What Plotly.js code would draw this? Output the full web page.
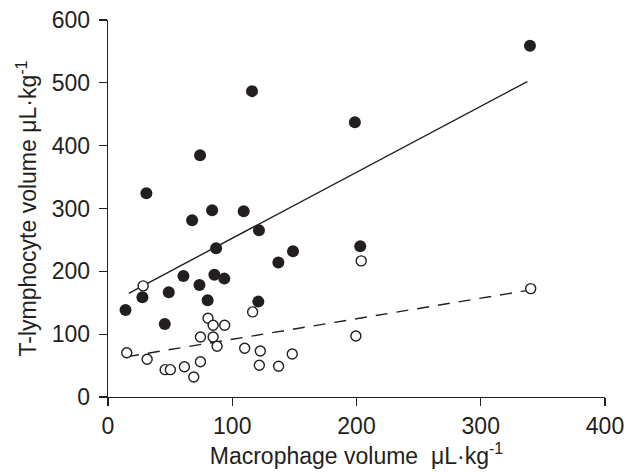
<!DOCTYPE html>
<html>
<head>
<meta charset="utf-8">
<script src="https://cdn.plot.ly/plotly-3.0.1.min.js"></script>
<style>html,body{margin:0;padding:0;background:#fff;}#chart{width:632px;height:472px;}</style>
</head>
<body>
<div id="chart"></div>
<script>
// Filled circles (series 1)
var filledX = [14.1, 27.7, 30.9, 45.7, 48.9, 60.7, 67.7, 73.6, 74.1, 80.2, 83.8, 85.6, 87.0, 93.6, 109.2, 115.9, 121.0, 121.5, 137.1, 148.9, 198.7, 203.0, 339.6];
var filledY = [138.5, 158.8, 324.4, 116.2, 166.7, 192.7, 281.4, 178.3, 384.9, 154.0, 297.3, 194.7, 236.8, 188.4, 295.7, 486.8, 151.8, 265.4, 213.9, 232.0, 437.4, 240.0, 558.9];
// Open circles (series 2)
var openX = [15.1, 28.3, 31.5, 46.0, 50.2, 61.5, 69.0, 74.4, 74.4, 80.5, 84.6, 93.9, 84.6, 87.8, 116.4, 110.0, 122.6, 121.8, 137.3, 148.3, 199.5, 203.8, 340.2];
var openY = [70.5, 176.8, 60.0, 43.5, 43.5, 48.2, 31.8, 56.2, 95.5, 125.3, 114.2, 114.2, 95.5, 80.7, 135.4, 77.5, 73.2, 50.5, 48.9, 68.5, 97.1, 216.6, 172.5];
// Fitted lines (end points)
var solidLineX = [16.7, 337.5];
var solidLineY = [165.1, 502.1];
var dashedLineX = [15.4, 340.2];
var dashedLineY = [64.2, 170.4];
// Axis ticks
var xTicks = [0, 100, 200, 300, 400];
var yTicks = [0, 100, 200, 300, 400, 500, 600];

var ink = '#231f20';
var traces = [
  {x: solidLineX, y: solidLineY, mode: 'lines', line: {color: ink, width: 1.4}, hoverinfo: 'skip'},
  {x: dashedLineX, y: dashedLineY, mode: 'lines', line: {color: ink, width: 1.4, dash: '12px,9px'}, hoverinfo: 'skip'},
  {x: filledX, y: filledY, mode: 'markers', marker: {symbol: 'circle', size: 12, color: ink, line: {width: 0}}},
  {x: openX, y: openY, mode: 'markers', marker: {symbol: 'circle', size: 10, color: '#ffffff', line: {color: ink, width: 1.4}}}
];

var fam = 'Liberation Sans, Arial, Helvetica, sans-serif';
var tickFont = {family: fam, size: 23, color: ink};
var titleFont = {family: fam, size: 23, color: ink};
var layout = {
  width: 632, height: 472,
  margin: {l: 107.5, r: 27, t: 20, b: 75, pad: 0},
  paper_bgcolor: '#ffffff', plot_bgcolor: '#ffffff',
  showlegend: false,
  font: tickFont,
  xaxis: {
    range: [0, 400], tickvals: xTicks, ticktext: xTicks.map(String),
    showgrid: false, zeroline: false, showline: true, linecolor: ink, linewidth: 1.3,
    ticks: 'outside', ticklen: 8, tickwidth: 1.3, tickcolor: ink,
    tickfont: tickFont,
    title: {text: 'Macrophage volume\u00a0 μL·kg<sup>-1</sup>', font: titleFont, standoff: 2}
  },
  yaxis: {
    range: [0, 600], tickvals: yTicks, ticktext: yTicks.map(String),
    showgrid: false, zeroline: false, showline: true, linecolor: ink, linewidth: 1.3,
    ticks: 'outside', ticklen: 8, tickwidth: 1.3, tickcolor: ink,
    ticklabelstandoff: 4,
    tickfont: tickFont,
    title: {text: 'T-lymphocyte volume μL·kg<sup>-1</sup>', font: titleFont, standoff: 8}
  }
};
Plotly.newPlot('chart', traces, layout, {staticPlot: true, displayModeBar: false});
</script>
</body>
</html>
